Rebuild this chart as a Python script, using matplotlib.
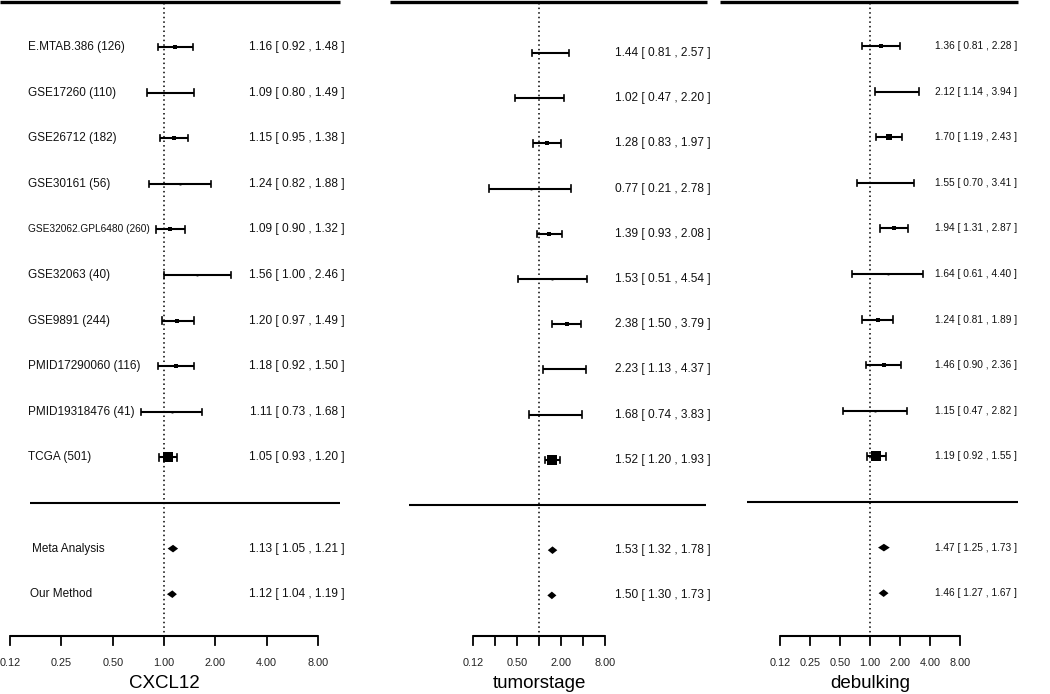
import numpy as np
import matplotlib
matplotlib.use("Agg")
import matplotlib.pyplot as plt

plt.rcParams['font.family'] = ['Liberation Sans', 'DejaVu Sans']

# === Data ===
studies = ["E.MTAB.386 (126)", "GSE17260 (110)", "GSE26712 (182)", "GSE30161 (56)",
           "GSE32062.GPL6480 (260)", "GSE32063 (40)", "GSE9891 (244)",
           "PMID17290060 (116)", "PMID19318476 (41)", "TCGA (501)"]
summary_names = ["Meta Analysis", "Our Method"]
tick_text = ["0.12", "0.25", "0.50", "1.00", "2.00", "4.00", "8.00"]

cxcl12_hr = [1.16, 1.09, 1.15, 1.24, 1.09, 1.56, 1.20, 1.18, 1.11, 1.05]
cxcl12_lo = [0.92, 0.80, 0.95, 0.82, 0.90, 1.00, 0.97, 0.92, 0.73, 0.93]
cxcl12_hi = [1.48, 1.49, 1.38, 1.88, 1.32, 2.46, 1.49, 1.50, 1.68, 1.20]
cxcl12_sum_hr = [1.13, 1.12]
cxcl12_sum_lo = [1.05, 1.04]
cxcl12_sum_hi = [1.21, 1.19]

tumor_hr = [1.44, 1.02, 1.28, 0.77, 1.39, 1.53, 2.38, 2.23, 1.68, 1.52]
tumor_lo = [0.81, 0.47, 0.83, 0.21, 0.93, 0.51, 1.50, 1.13, 0.74, 1.20]
tumor_hi = [2.57, 2.20, 1.97, 2.78, 2.08, 4.54, 3.79, 4.37, 3.83, 1.93]
tumor_sum_hr = [1.53, 1.50]
tumor_sum_lo = [1.32, 1.30]
tumor_sum_hi = [1.78, 1.73]

debulk_hr = [1.36, 2.12, 1.70, 1.55, 1.94, 1.64, 1.24, 1.46, 1.15, 1.19]
debulk_lo = [0.81, 1.14, 1.19, 0.70, 1.31, 0.61, 0.81, 0.90, 0.47, 0.92]
debulk_hi = [2.28, 3.94, 2.43, 3.41, 2.87, 4.40, 1.89, 2.36, 2.82, 1.55]
debulk_sum_hr = [1.47, 1.46]
debulk_sum_lo = [1.25, 1.27]
debulk_sum_hi = [1.73, 1.67]

W, H = 1050, 694

# === Panel layout (pixels) ===
# sc = px per log2 unit for the estimates, tick_px = spacing of the drawn axis ticks
panels = [
    dict(title="CXCL12", hr=cxcl12_hr, lo=cxcl12_lo, hi=cxcl12_hi,
         shr=cxcl12_sum_hr, slo=cxcl12_sum_lo, shi=cxcl12_sum_hi,
         ax=(0, 352), xc=164, sc=51.3, tick_px=51.3, y0=47, step=45.6,
         top=(0, 340), sep=(30, 340), val_x=345, val_fs=8.6, labels=True,
         shown=[0, 1, 2, 3, 4, 5, 6]),
    dict(title="tumorstage", hr=tumor_hr, lo=tumor_lo, hi=tumor_hi,
         shr=tumor_sum_hr, slo=tumor_sum_lo, shi=tumor_sum_hi,
         ax=(385, 718), xc=539, sc=22.0, tick_px=22.0, y0=53, step=45.2,
         top=(390, 707), sep=(409, 706), val_x=711, val_fs=8.6, labels=False,
         shown=[0, 2, 4, 6]),
    dict(title="debulking", hr=debulk_hr, lo=debulk_lo, hi=debulk_hi,
         shr=debulk_sum_hr, slo=debulk_sum_lo, shi=debulk_sum_hi,
         ax=(718, 1050), xc=870, sc=25.0, tick_px=30.0, y0=46, step=45.6,
         top=(720, 1018), sep=(747, 1018), val_x=1017, val_fs=7.3, labels=False,
         shown=[0, 1, 2, 3, 4, 5, 6]),
]

fig = plt.figure(figsize=(W / 100, H / 100), dpi=100)

for p in panels:
    a0, a1 = p["ax"]
    ax = fig.add_axes([a0 / W, 0, (a1 - a0) / W, 1])
    xc, sc, y0, step = p["xc"], p["sc"], p["y0"], p["step"]
    px = lambda v: (v - xc) / sc       # pixel x -> log2 units
    py = lambda v: (v - y0) / step     # pixel y -> row units
    ax.set_xlim(px(a0), px(a1))
    ax.set_ylim(py(H), py(0))
    ax.axis("off")

    hr = np.log2(p["hr"]); lo = np.log2(p["lo"]); hi = np.log2(p["hi"])
    rows = np.arange(len(hr))

    # marker sizes from inverse variance
    se = (np.log(p["hi"]) - np.log(p["lo"])) / 3.92
    w = 1 / se ** 2
    wn = (w - w.min()) / (w.max() - w.min())
    msize = (1.8 + 7.5 * wn) * 0.72

    cap = 3.2 / step
    for i in rows:
        ax.plot([lo[i], hi[i]], [i, i], color="black", lw=1.5, solid_capstyle="butt")
        ax.plot([lo[i], lo[i]], [i - cap, i + cap], color="black", lw=1.2)
        ax.plot([hi[i], hi[i]], [i - cap, i + cap], color="black", lw=1.2)
        ax.plot(hr[i], i, marker="s", color="black", ms=msize[i], mew=0)
        ax.text(px(p["val_x"]), i, f"{p['hr'][i]:.2f} [ {p['lo'][i]:.2f} , {p['hi'][i]:.2f} ]",
                ha="right", va="center", fontsize=p["val_fs"], color="#111111")
        if p["labels"]:
            fs = 7.3 if len(studies[i]) > 20 else 8.5
            ax.text(px(28), i, studies[i], ha="left", va="center", fontsize=fs, color="#111111")

    # summary diamonds
    dh = 3.8 / step
    for k in range(2):
        r = 11 + k
        m = np.log2(p["shr"][k]); l = np.log2(p["slo"][k]); h = np.log2(p["shi"][k])
        ax.fill([l, m, h, m], [r, r - dh, r, r + dh], color="black", lw=0)
        ax.text(px(p["val_x"]), r, f"{p['shr'][k]:.2f} [ {p['slo'][k]:.2f} , {p['shi'][k]:.2f} ]",
                ha="right", va="center", fontsize=p["val_fs"], color="#111111")
        if p["labels"]:
            ax.text(px(32 - 2 * k), r, summary_names[k], ha="left", va="center", fontsize=8.5, color="#111111")

    # horizontal rules
    ax.plot([px(p["top"][0]), px(p["top"][1])], [py(1.5), py(1.5)], color="black", lw=2.4,
            clip_on=False, solid_capstyle="butt")
    ax.plot([px(p["sep"][0]), px(p["sep"][1])], [10, 10], color="black", lw=1.5,
            solid_capstyle="butt")

    # reference line at 1
    ax.plot([0, 0], [py(3), py(634)], color="black", lw=1.1, ls=(0, (1, 2)))

    # x axis
    lt = [px(xc + p["tick_px"] * k) for k in range(-3, 4)]
    ax.plot([lt[0], lt[-1]], [py(636), py(636)], color="black", lw=1.5, solid_capstyle="butt")
    for j, t in enumerate(lt):
        ax.plot([t, t], [py(636), py(645)], color="black", lw=1.3)
        if j in p["shown"]:
            ax.text(t, py(663), tick_text[j], ha="center", va="center", fontsize=7.8, color="#222222")
    ax.text(0, py(684), p["title"], ha="center", va="center", fontsize=13.5, color="black")

fig.savefig("out.png", dpi=100)
